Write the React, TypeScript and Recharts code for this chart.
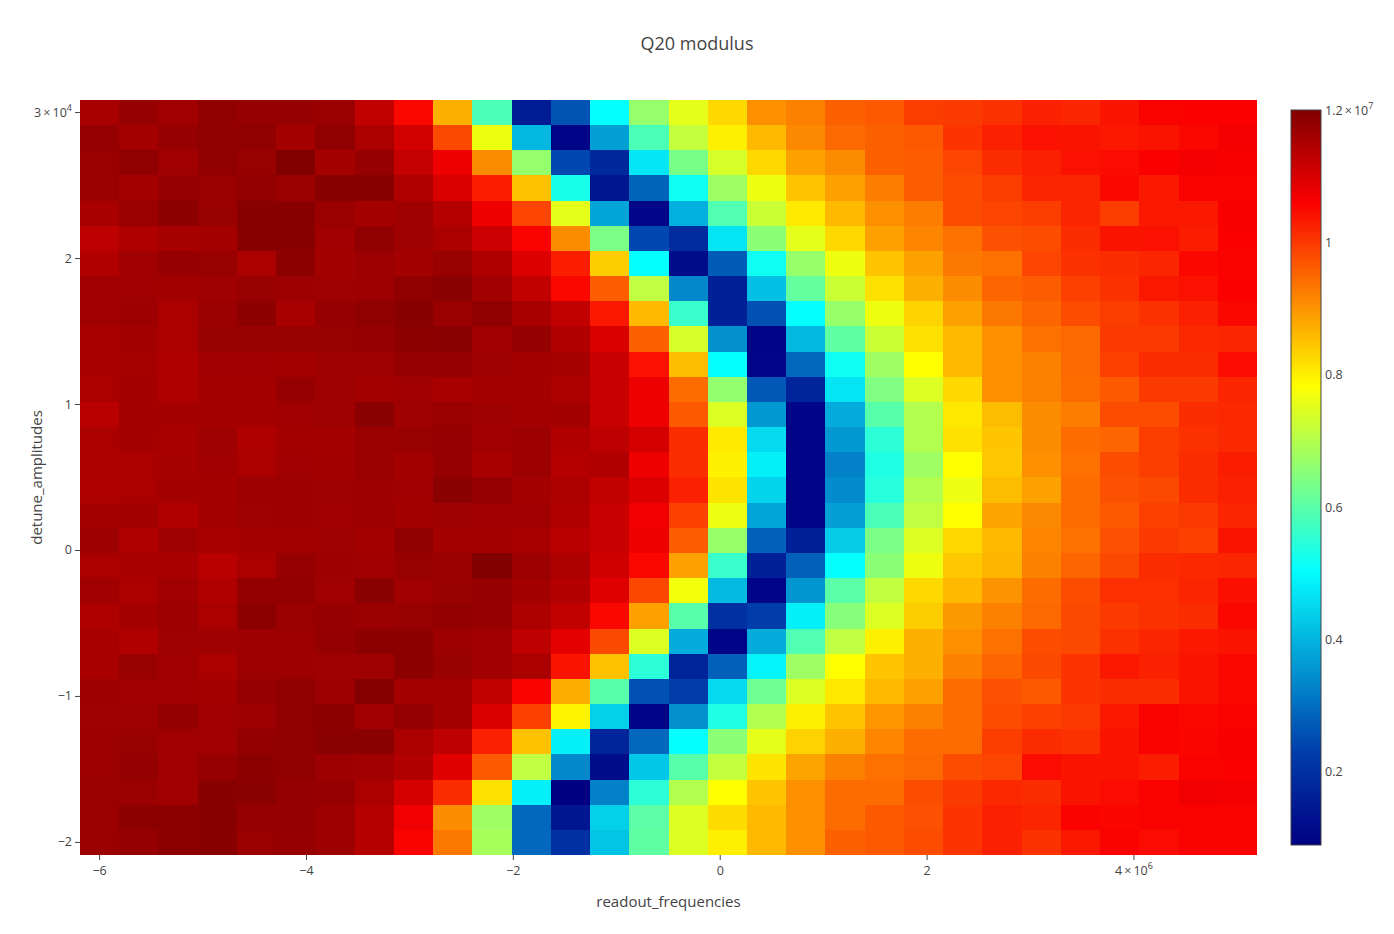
import React from 'react';
import { ScatterChart, XAxis, YAxis, ReferenceArea, Scatter } from 'recharts';

// ---------- data ----------
// readout frequency (Hz), column centres, left -> right
const readoutFrequencies: number[] = [
  -6000000, -5620690, -5241379, -4862069, -4482759, -4103448, -3724138, -3344828, -2965517, -2586207,
  -2206897, -1827586, -1448276, -1068966, -689655, -310345, 68966, 448276, 827586, 1206897,
  1586207, 1965517, 2344828, 2724138, 3103448, 3482759, 3862069, 4241379, 4620690, 5000000,
];

// detune amplitude, row centres, top -> bottom (same order as the rows of the matrix below)
const detuneAmplitudes: number[] = [
  30000, 28276, 26552, 24828, 23103, 21379, 19655, 17931, 16207, 14483,
  12759, 11034, 9310, 7586, 5862, 4138, 2414, 690, -1034, -2759,
  -4483, -6207, -7931, -9655, -11379, -13103, -14828, -16552, -18276, -20000,
];

// Q20 modulus, in millions; one row per detune amplitude (top -> bottom)
const modulusMillions: number[][] = [
  [11.55, 11.75, 11.64, 11.82, 11.75, 11.75, 11.70, 11.27, 10.55, 8.70, 5.86, 1.55, 2.63, 5.06, 6.67, 7.56, 8.26, 9.05, 9.22, 9.57, 9.65, 9.96, 9.99, 10.09, 10.26, 10.22, 10.40, 10.60, 10.61, 10.61],
  [11.75, 11.59, 11.75, 11.82, 11.82, 11.59, 11.82, 11.52, 11.07, 9.83, 7.67, 4.05, 1.00, 3.71, 5.85, 7.18, 8.02, 8.61, 9.13, 9.48, 9.57, 9.65, 10.05, 10.26, 10.44, 10.40, 10.35, 10.40, 10.53, 10.68],
  [11.70, 11.82, 11.64, 11.82, 11.73, 12.01, 11.59, 11.75, 11.23, 10.75, 9.09, 6.67, 2.46, 1.83, 4.71, 6.34, 7.40, 8.26, 8.87, 9.09, 9.57, 9.61, 9.87, 10.13, 10.26, 10.44, 10.48, 10.61, 10.68, 10.64],
  [11.70, 11.59, 11.75, 11.70, 11.80, 11.70, 11.91, 11.91, 11.45, 11.00, 10.31, 8.52, 5.30, 1.40, 2.86, 5.18, 6.78, 7.67, 8.48, 8.87, 9.26, 9.61, 9.79, 9.96, 10.22, 10.22, 10.53, 10.35, 10.60, 10.60],
  [11.55, 11.70, 11.86, 11.73, 11.91, 11.91, 11.70, 11.59, 11.66, 11.41, 10.75, 9.87, 7.56, 3.77, 1.05, 3.94, 5.90, 7.27, 8.07, 8.61, 9.05, 9.26, 9.79, 9.87, 9.96, 10.22, 9.96, 10.35, 10.35, 10.64],
  [11.32, 11.48, 11.57, 11.59, 11.91, 11.91, 11.64, 11.82, 11.66, 11.52, 11.14, 10.60, 9.09, 6.38, 2.46, 1.92, 4.68, 6.56, 7.56, 8.26, 8.87, 9.17, 9.39, 9.74, 9.79, 10.13, 10.40, 10.44, 10.31, 10.61],
  [11.45, 11.64, 11.75, 11.73, 11.52, 11.86, 11.61, 11.68, 11.61, 11.73, 11.48, 10.95, 10.31, 8.39, 5.06, 1.20, 2.74, 5.18, 6.69, 7.67, 8.48, 8.87, 9.31, 9.39, 9.87, 10.09, 10.13, 10.22, 10.53, 10.60],
  [11.64, 11.64, 11.61, 11.66, 11.73, 11.68, 11.66, 11.68, 11.82, 11.89, 11.64, 11.27, 10.53, 9.61, 7.14, 3.37, 1.64, 4.17, 6.12, 7.27, 8.17, 8.70, 9.09, 9.52, 9.61, 9.92, 10.09, 10.35, 10.44, 10.61],
  [11.64, 11.68, 11.52, 11.70, 11.86, 11.55, 11.75, 11.84, 11.91, 11.70, 11.82, 11.55, 11.27, 10.35, 8.61, 5.63, 1.64, 2.57, 5.06, 6.69, 7.67, 8.31, 8.87, 9.31, 9.52, 9.79, 9.96, 10.09, 10.26, 10.53],
  [11.55, 11.61, 11.52, 11.73, 11.73, 11.73, 11.73, 11.75, 11.86, 11.89, 11.64, 11.77, 11.45, 11.00, 9.57, 7.40, 3.48, 1.00, 4.05, 6.07, 7.27, 8.17, 8.61, 9.05, 9.39, 9.48, 9.99, 9.99, 10.18, 10.22],
  [11.55, 11.57, 11.48, 11.64, 11.64, 11.59, 11.66, 11.66, 11.75, 11.75, 11.66, 11.59, 11.57, 11.18, 10.44, 8.57, 5.06, 1.05, 2.91, 5.18, 6.78, 7.84, 8.61, 9.05, 9.22, 9.48, 9.92, 10.13, 10.13, 10.48],
  [11.52, 11.59, 11.48, 11.59, 11.59, 11.75, 11.66, 11.59, 11.64, 11.55, 11.59, 11.59, 11.50, 11.18, 10.75, 9.44, 6.65, 2.69, 1.73, 4.68, 6.43, 7.45, 8.26, 9.05, 9.22, 9.44, 9.65, 9.99, 9.99, 10.22],
  [11.36, 11.59, 11.59, 11.59, 11.59, 11.64, 11.66, 11.89, 11.66, 11.70, 11.66, 11.59, 11.61, 11.18, 10.75, 9.65, 7.45, 3.60, 1.00, 3.88, 5.98, 7.00, 8.09, 8.57, 9.09, 9.26, 9.79, 9.79, 10.13, 10.18],
  [11.52, 11.59, 11.55, 11.66, 11.48, 11.59, 11.59, 11.70, 11.73, 11.75, 11.64, 11.68, 11.45, 11.32, 11.05, 10.13, 8.07, 4.56, 1.00, 3.60, 5.50, 7.00, 8.17, 8.48, 9.09, 9.44, 9.52, 9.96, 10.09, 10.18],
  [11.52, 11.52, 11.57, 11.64, 11.52, 11.64, 11.61, 11.70, 11.61, 11.75, 11.55, 11.68, 11.41, 11.45, 10.75, 10.13, 8.00, 4.85, 1.00, 3.26, 5.36, 6.78, 7.84, 8.44, 9.05, 9.39, 9.79, 9.96, 10.13, 10.31],
  [11.48, 11.52, 11.59, 11.59, 11.68, 11.68, 11.66, 11.68, 11.64, 11.89, 11.75, 11.59, 11.50, 11.27, 10.95, 10.26, 8.13, 4.45, 1.00, 3.43, 5.45, 7.00, 7.65, 8.57, 8.87, 9.44, 9.74, 9.83, 10.13, 10.26],
  [11.59, 11.61, 11.45, 11.59, 11.66, 11.68, 11.64, 11.68, 11.61, 11.66, 11.64, 11.64, 11.45, 11.18, 10.73, 9.92, 7.65, 3.77, 1.00, 3.71, 5.85, 7.14, 7.84, 8.83, 9.13, 9.44, 9.65, 9.92, 9.99, 10.22],
  [11.68, 11.48, 11.66, 11.55, 11.59, 11.61, 11.66, 11.59, 11.82, 11.59, 11.59, 11.55, 11.36, 11.18, 10.75, 9.61, 6.69, 2.80, 1.64, 4.34, 6.38, 7.45, 8.26, 8.61, 9.17, 9.39, 9.74, 9.99, 9.92, 10.40],
  [11.52, 11.55, 11.55, 11.36, 11.52, 11.75, 11.68, 11.64, 11.73, 11.70, 12.00, 11.68, 11.50, 11.09, 10.53, 8.87, 5.63, 1.64, 2.80, 5.06, 6.56, 7.67, 8.44, 8.65, 9.22, 9.52, 9.83, 10.13, 10.18, 10.22],
  [11.64, 11.52, 11.64, 11.45, 11.78, 11.78, 11.64, 11.89, 11.64, 11.73, 11.75, 11.61, 11.43, 10.93, 9.85, 7.72, 4.08, 1.00, 3.57, 6.02, 7.16, 8.26, 8.61, 9.02, 9.44, 9.79, 10.11, 10.11, 10.22, 10.46],
  [11.48, 11.59, 11.68, 11.52, 11.86, 11.70, 11.75, 11.70, 11.73, 11.80, 11.75, 11.50, 11.27, 10.53, 8.87, 5.98, 2.00, 2.29, 4.85, 6.52, 7.45, 8.39, 8.96, 9.22, 9.48, 9.83, 9.99, 10.09, 10.13, 10.53],
  [11.55, 11.45, 11.66, 11.66, 11.68, 11.68, 11.77, 11.86, 11.86, 11.68, 11.64, 11.32, 10.86, 9.83, 7.45, 3.88, 1.00, 3.88, 5.90, 7.14, 8.00, 8.70, 9.05, 9.39, 9.79, 9.83, 10.09, 10.22, 10.35, 10.40],
  [11.55, 11.73, 11.64, 11.52, 11.68, 11.68, 11.66, 11.66, 11.86, 11.73, 11.64, 11.52, 10.40, 8.52, 5.50, 1.73, 2.80, 4.91, 6.78, 7.84, 8.48, 8.70, 9.22, 9.52, 9.83, 10.05, 10.35, 10.26, 10.40, 10.53],
  [11.68, 11.64, 11.64, 11.59, 11.75, 11.82, 11.68, 11.95, 11.59, 11.59, 11.27, 10.60, 8.74, 5.98, 2.57, 2.29, 4.56, 6.25, 7.45, 8.09, 8.61, 8.87, 9.44, 9.74, 9.65, 10.05, 10.13, 10.13, 10.40, 10.53],
  [11.66, 11.66, 11.80, 11.64, 11.68, 11.82, 11.86, 11.64, 11.77, 11.59, 11.00, 9.92, 7.96, 4.39, 1.00, 3.48, 5.36, 7.00, 8.02, 8.48, 9.00, 9.22, 9.44, 9.79, 9.92, 9.99, 10.35, 10.60, 10.53, 10.60],
  [11.68, 11.73, 11.64, 11.64, 11.80, 11.82, 11.89, 11.89, 11.52, 11.32, 10.26, 8.52, 4.85, 1.73, 2.91, 5.06, 6.56, 7.56, 8.35, 8.70, 9.17, 9.44, 9.44, 9.96, 10.13, 10.09, 10.40, 10.60, 10.57, 10.64],
  [11.68, 11.77, 11.64, 11.75, 11.86, 11.82, 11.68, 11.64, 11.45, 10.91, 9.65, 7.14, 3.37, 1.20, 4.28, 5.98, 7.18, 8.13, 8.83, 9.22, 9.39, 9.48, 9.79, 9.87, 10.48, 10.40, 10.40, 10.31, 10.60, 10.61],
  [11.70, 11.70, 11.64, 11.91, 11.89, 11.77, 11.75, 11.52, 11.05, 10.13, 8.17, 4.85, 0.90, 3.26, 5.50, 7.00, 7.84, 8.48, 9.05, 9.44, 9.44, 9.79, 9.99, 10.18, 10.13, 10.40, 10.48, 10.60, 10.73, 10.68],
  [11.70, 11.86, 11.86, 11.91, 11.75, 11.77, 11.68, 11.41, 10.73, 9.09, 6.78, 2.91, 1.40, 4.39, 6.03, 7.45, 8.22, 8.61, 9.05, 9.44, 9.65, 9.74, 10.05, 10.26, 10.22, 10.60, 10.57, 10.60, 10.60, 10.60],
  [11.70, 11.77, 11.86, 11.91, 11.70, 11.75, 11.68, 11.41, 10.60, 9.31, 6.87, 2.91, 2.00, 4.22, 6.07, 7.45, 8.02, 8.61, 9.05, 9.57, 9.65, 9.79, 10.05, 10.26, 10.09, 10.35, 10.60, 10.48, 10.60, 10.60],
];
const MODULUS_UNIT = 1e6;

const TIMES = '\u2009\u00d7\u2009';
const xTicks = [-6e6, -4e6, -2e6, 0, 2e6, 4e6];
const xTickLabels = ['\u22126', '\u22124', '\u22122', '0', '2', `4${TIMES}10`];
const xExponent = '6';
const yTicks = [-2e4, -1e4, 0, 1e4, 2e4, 3e4];
const yTickLabels = ['\u22122', '\u22121', '0', '1', '2', `3${TIMES}10`];
const yExponent = '4';
const cbTicks = [2e6, 4e6, 6e6, 8e6, 10e6, 12e6];
const cbTickLabels = ['0.2', '0.4', '0.6', '0.8', '1', `1.2${TIMES}10`];
const cbExponent = '7';

// ---------- styling ----------
const FONT = '"Open Sans", verdana, arial, sans-serif';
const TXT = '#444';
const W = 1394;
const H = 934;
const TICK_FS = 12.5;
const SUP_FS = 9;

const JET: [number, [number, number, number]][] = [
  [0, [0, 0, 131]],
  [0.125, [0, 60, 170]],
  [0.375, [5, 255, 255]],
  [0.625, [255, 255, 0]],
  [0.875, [250, 0, 0]],
  [1, [128, 0, 0]],
];

function jetColor(t: number): string {
  const c = Math.max(0, Math.min(1, t));
  for (let i = 1; i < JET.length; i++) {
    const [t1, c1] = JET[i];
    const [t0, c0] = JET[i - 1];
    if (c <= t1) {
      const f = (c - t0) / (t1 - t0);
      const r = Math.round(c0[0] + (c1[0] - c0[0]) * f);
      const g = Math.round(c0[1] + (c1[1] - c0[1]) * f);
      const b = Math.round(c0[2] + (c1[2] - c0[2]) * f);
      return `rgb(${r},${g},${b})`;
    }
  }
  return 'rgb(128,0,0)';
}

const allValues = modulusMillions.flat().map((v) => v * MODULUS_UNIT);
const zMin = Math.min(...allValues);
const zMax = Math.max(...allValues);

const dx = (readoutFrequencies[readoutFrequencies.length - 1] - readoutFrequencies[0]) / (readoutFrequencies.length - 1);
const dy = Math.abs(detuneAmplitudes[0] - detuneAmplitudes[detuneAmplitudes.length - 1]) / (detuneAmplitudes.length - 1);
const xDomain: [number, number] = [Math.min(...readoutFrequencies) - dx / 2, Math.max(...readoutFrequencies) + dx / 2];
const yDomain: [number, number] = [Math.min(...detuneAmplitudes) - dy / 2, Math.max(...detuneAmplitudes) + dy / 2];

const cells = detuneAmplitudes.flatMap((yv, i) =>
  readoutFrequencies.map((xv, j) => ({ x: xv, y: yv, z: modulusMillions[i][j] * MODULUS_UNIT }))
);

const XTick = (props: any) => {
  const { x, y, payload } = props;
  const i = xTicks.indexOf(payload.value);
  if (i < 0) return null;
  const last = i === xTicks.length - 1;
  return (
    <text x={x} y={y + 13} textAnchor="middle" fill={TXT} fontSize={TICK_FS} fontFamily={FONT}>
      {xTickLabels[i]}
      {last && (
        <tspan dy={-6} fontSize={SUP_FS}>
          {xExponent}
        </tspan>
      )}
    </text>
  );
};

const YTick = (props: any) => {
  const { x, y, payload } = props;
  const i = yTicks.indexOf(payload.value);
  if (i < 0) return null;
  const last = i === yTicks.length - 1;
  return (
    <text x={x} y={y + 4} textAnchor="end" fill={TXT} fontSize={TICK_FS} fontFamily={FONT}>
      {yTickLabels[i]}
      {last && (
        <tspan dy={-6} fontSize={SUP_FS}>
          {yExponent}
        </tspan>
      )}
    </text>
  );
};

const cellShape = (p: any) => (
  <rect x={p.x} y={p.y} width={p.width} height={p.height} fill={p.fill} stroke="none" shapeRendering="crispEdges" />
);

// colorbar geometry (plotly defaults: thickness 30, ypad 10)
const CB_X = 1291;
const CB_W = 30;
const CB_TOP = 110;
const CB_BOTTOM = 845;

function ColorBar() {
  const span = CB_BOTTOM - CB_TOP;
  const toY = (v: number) => CB_BOTTOM - ((v - zMin) / (zMax - zMin)) * span;
  return (
    <g>
      <defs>
        <linearGradient id="jetGrad" x1="0" y1="1" x2="0" y2="0">
          {JET.map(([t, c]) => (
            <stop key={t} offset={t} stopColor={`rgb(${c[0]},${c[1]},${c[2]})`} />
          ))}
        </linearGradient>
      </defs>
      <rect x={CB_X} y={CB_TOP} width={CB_W} height={span} fill="url(#jetGrad)" stroke={TXT} strokeWidth={1} />
      {cbTicks.map((v, i) => (
        <text key={v} x={CB_X + CB_W + 4} y={toY(v) + 4} fill={TXT} fontSize={TICK_FS} fontFamily={FONT}>
          {cbTickLabels[i]}
          {i === cbTicks.length - 1 && (
            <tspan dy={-6} fontSize={SUP_FS}>
              {cbExponent}
            </tspan>
          )}
        </text>
      ))}
    </g>
  );
}

export default function App() {
  return (
    <div style={{ position: 'absolute', left: 0, top: 0, width: W, height: H, background: '#fff', overflow: 'hidden' }}>
      <ScatterChart width={W} height={H} margin={{ top: 100, right: 137, bottom: 39, left: 20 }}>
        <XAxis
          type="number"
          dataKey="x"
          domain={xDomain}
          allowDataOverflow
          ticks={xTicks}
          interval={0}
          height={40}
          axisLine={false}
          tickLine={{ stroke: TXT, strokeWidth: 1 }}
          tickSize={5}
          tickMargin={2}
          tick={<XTick />}
        />
        <YAxis
          type="number"
          dataKey="y"
          domain={yDomain}
          allowDataOverflow
          ticks={yTicks}
          interval={0}
          width={60}
          axisLine={false}
          tickLine={{ stroke: TXT, strokeWidth: 1 }}
          tickSize={5}
          tickMargin={3}
          tick={<YTick />}
        />
        {cells.map((c, k) => (
          <ReferenceArea
            key={k}
            x1={c.x - dx / 2}
            x2={c.x + dx / 2}
            y1={c.y - dy / 2}
            y2={c.y + dy / 2}
            fill={jetColor((c.z - zMin) / (zMax - zMin))}
            fillOpacity={1}
            stroke="none"
            ifOverflow="visible"
            shape={cellShape}
          />
        ))}
        <Scatter data={cells} isAnimationActive={false} shape={() => <g />} />
      </ScatterChart>
      <svg width={W} height={H} style={{ position: 'absolute', left: 0, top: 0, pointerEvents: 'none' }}>
        <text x={697} y={50} textAnchor="middle" fill={TXT} fontSize={18} fontFamily={FONT}>
          Q20 modulus
        </text>
        <text x={668.5} y={907} textAnchor="middle" fill={TXT} fontSize={15} fontFamily={FONT}>
          readout_frequencies
        </text>
        <text
          x={42}
          y={477.5}
          textAnchor="middle"
          fill={TXT}
          fontSize={15}
          fontFamily={FONT}
          transform="rotate(-90 42 477.5)"
        >
          detune_amplitudes
        </text>
        <ColorBar />
      </svg>
    </div>
  );
}
